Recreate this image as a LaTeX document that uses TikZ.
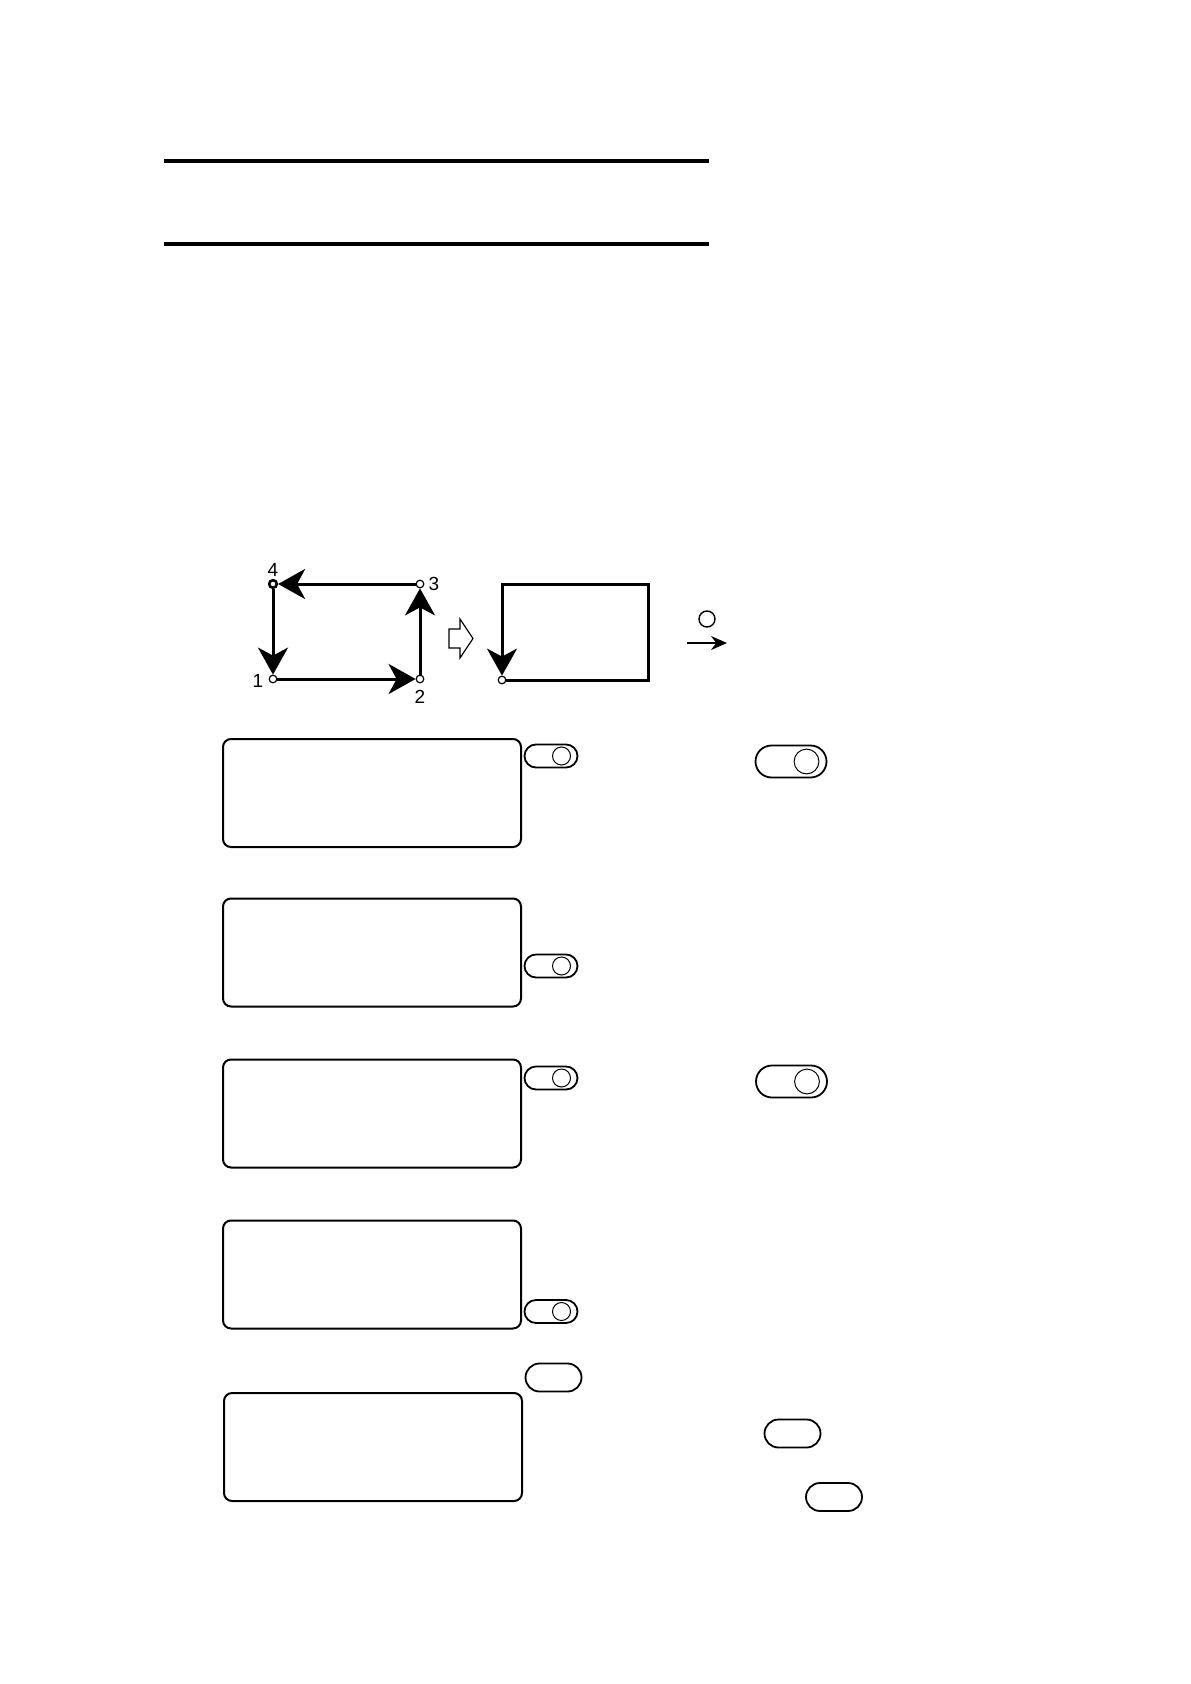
\documentclass[tikz,border=0pt]{standalone}
\usepackage{fontspec}
\setmainfont{Liberation Sans}
\usetikzlibrary{arrows.meta,shapes.misc}

\begin{document}
\begin{tikzpicture}[x=0.5pt, y=-0.5pt,
	every node/.style={font=\fontsize{9.5}{11}\selectfont},
	>={Stealth[length=13.5pt, width=15pt, inset=4pt]},
	corner/.style={circle, draw, fill=white, line width=0.6pt, minimum size=3.8pt, inner sep=0pt},
	flow/.style={->, line width=1.5pt},
	lcd/.style={draw, line width=1pt, rounded corners=4pt, minimum width=149pt, minimum height=54pt, inner sep=0pt},
	key/.style={draw, rounded rectangle, line width=0.9pt, minimum width=28pt, minimum height=14pt, inner sep=0pt},
	toggle/.style={key, minimum width=26.5pt, minimum height=11.5pt,
		path picture={\draw[line width=0.5pt] ([xshift=-8pt]path picture bounding box.east) circle (4.5pt);}},
	bigtoggle/.style={key, minimum width=35.5pt, minimum height=16pt,
		path picture={\draw[line width=0.5pt] ([xshift=-10pt]path picture bounding box.east) circle (6.2pt);}}]
	\useasboundingbox (0,0) rectangle (1190,1684);
	% heading rules
	\draw[line width=2pt] (164,161) -- (709,161);
	\draw[line width=2pt] (164,244) -- (709,244);
	% order of the four points
	\node[corner] (p1) at (273,679) {};
	\node[corner] (p2) at (420,679) {};
	\node[corner] (p3) at (420,584) {};
	\node[corner, line width=1.3pt] (p4) at (273,584) {};
	\draw[flow] (p1) -- (p2);
	\draw[flow] (p2) -- (p3);
	\draw[flow] (p3) -- (p4);
	\draw[flow] (p4) -- (p1);
	\node (n1) at (258,681) {1};
	\node (n2) at (420,697) {2};
	\node (n3) at (434,584) {3};
	\node (n4) at (273,570) {4};
	% hollow arrow
	\draw[line width=0.6pt] (449,629) -- (460,629) -- (460,619) -- (473,638.5) -- (460,658) -- (460,648) -- (449,648) -- cycle;
	% result
	\node[corner] (q1) at (502,680) {};
	\coordinate (q2) at (648,680);
	\coordinate (q3) at (648,584);
	\coordinate (q4) at (502,584);
	\draw[flow] (q1) -- (q2) -- (q3) -- (q4) -- (q1);
	\node[circle, draw, line width=0.7pt, minimum size=8pt, inner sep=0pt] (ok) at (707,619) {};
	\coordinate (a0) at (687,643);
	\coordinate (a1) at (727,643);
	\draw[-{Stealth[length=8pt, width=7pt]}, line width=1pt] (a0) -- (a1);
	% displays
	\foreach \i/\y in {1/793, 2/952.5, 3/1113.5, 4/1274.5}
		\node[lcd] (lcd\i) at (372,\y) {};
	\node[lcd] (lcd5) at (373,1447) {};
	% switches and keys
	\node[toggle] (sw1) at (551,756) {};
	\node[bigtoggle] (sw1b) at (791,761.5) {};
	\node[toggle] (sw2) at (551,966) {};
	\node[toggle] (sw3) at (551,1078) {};
	\node[bigtoggle] (sw3b) at (791.5,1081.5) {};
	\node[toggle] (sw4) at (551,1311.5) {};
	\node[key] (k5) at (553.5,1377.5) {};
	\node[key] (k6) at (792.5,1433.5) {};
	\node[key] (k7) at (834,1497) {};
\end{tikzpicture}
\end{document}
